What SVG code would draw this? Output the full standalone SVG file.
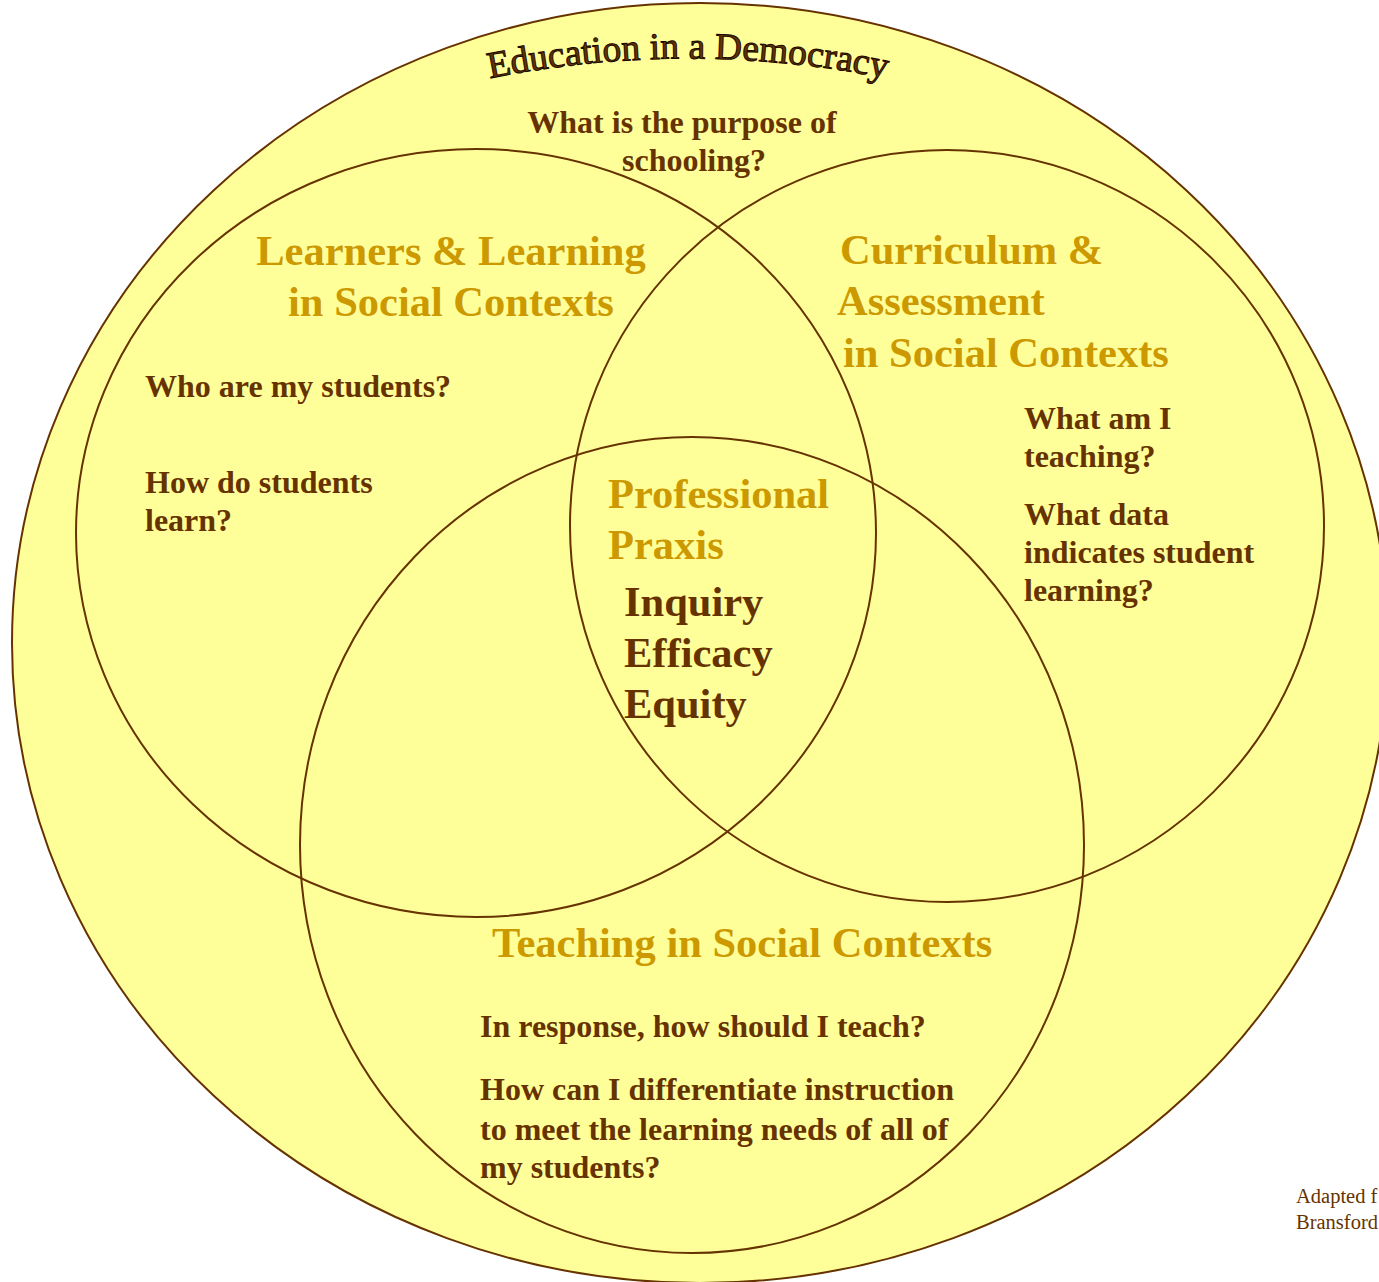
<svg xmlns="http://www.w3.org/2000/svg" width="1379" height="1282" viewBox="0 0 1379 1282">
<style>
.ring{fill:none;stroke:#663300;stroke-width:2}
.head{font-family:"Liberation Serif","Times New Roman",serif;font-weight:bold;font-size:42.5px;fill:#CC9900}
.core{font-family:"Liberation Serif","Times New Roman",serif;font-weight:bold;font-size:42.5px;fill:#663300}
.q{font-family:"Liberation Serif","Times New Roman",serif;font-weight:bold;font-size:32px;fill:#663300}
.title{font-family:"Liberation Serif","Times New Roman",serif;font-size:37.5px;fill:#663300;stroke:#1a0a00;stroke-width:1}
.note{font-family:"Liberation Serif","Times New Roman",serif;font-size:20.5px;fill:#663300}
</style>
<defs>
<path id="titleArc" d="M 438,90.3 A 1000,1000 0 0 1 938,90.3"/>
</defs>
<rect width="1379" height="1282" fill="#ffffff"/>
<g id="democracy">
<ellipse cx="700" cy="643" rx="688" ry="640" fill="#FFFF99" stroke="#663300" stroke-width="2"/>
<text class="title"><textPath href="#titleArc" startOffset="50%" text-anchor="middle">Education in a Democracy</textPath></text>
<text class="q" x="682" y="133" text-anchor="middle">What is the purpose of</text>
<text class="q" x="694" y="171" text-anchor="middle">schooling?</text>
</g>
<g id="learners">
<ellipse class="ring" cx="476" cy="533" rx="400" ry="384"/>
<text class="head" x="451" y="265" text-anchor="middle">Learners &amp; Learning</text>
<text class="head" x="451" y="316" text-anchor="middle">in Social Contexts</text>
<text class="q" x="145" y="397">Who are my students?</text>
<text class="q" x="145" y="493">How do students</text>
<text class="q" x="145" y="531">learn?</text>
</g>
<g id="curriculum">
<ellipse class="ring" cx="947" cy="526" rx="377" ry="376"/>
<text class="head" x="840" y="264">Curriculum &amp;</text>
<text class="head" x="837" y="315">Assessment</text>
<text class="head" x="843" y="367">in Social Contexts</text>
<text class="q" x="1024" y="429">What am I</text>
<text class="q" x="1024" y="467">teaching?</text>
<text class="q" x="1024" y="525">What data</text>
<text class="q" x="1024" y="563">indicates student</text>
<text class="q" x="1024" y="601">learning?</text>
</g>
<g id="teaching">
<ellipse class="ring" cx="692" cy="845" rx="392" ry="408"/>
<text class="head" x="492" y="957">Teaching in Social Contexts</text>
<text class="q" x="480" y="1037">In response, how should I teach?</text>
<text class="q" x="480" y="1100">How can I differentiate instruction</text>
<text class="q" x="480" y="1140">to meet the learning needs of all of</text>
<text class="q" x="480" y="1178">my students?</text>
</g>
<g id="praxis">
<text class="head" x="608" y="508">Professional</text>
<text class="head" x="608" y="559">Praxis</text>
<text class="core" x="624" y="616">Inquiry</text>
<text class="core" x="624" y="667">Efficacy</text>
<text class="core" x="624" y="718">Equity</text>
</g>
<g id="credit">
<text class="note" x="1296" y="1203">Adapted f</text>
<text class="note" x="1296" y="1229">Bransford</text>
</g>
</svg>
